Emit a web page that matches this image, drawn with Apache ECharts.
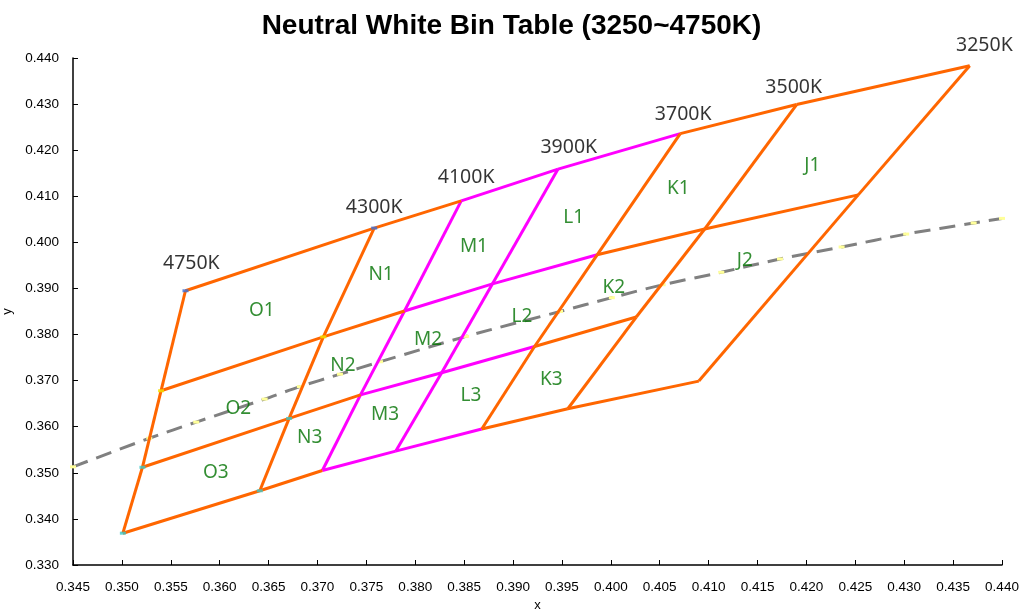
<!DOCTYPE html>
<html>
<head>
<meta charset="utf-8">
<script src="https://cdn.jsdelivr.net/npm/echarts@6/dist/echarts.min.js"></script>
<style>html,body{margin:0;padding:0;background:#fff}#c{width:1023px;height:613px}</style>
</head>
<body>
<div id="c"></div>
<script>
// CCT boundary names (left to right)
const cctNames = ['4750K', '4300K', '4100K', '3900K', '3700K', '3500K', '3250K'];
// Corner points along each bin row boundary, one per CCT line
const topEdge = [[0.3565, 0.3895], [0.3758, 0.4031], [0.3847, 0.4090], [0.3946, 0.4159], [0.4071, 0.4236], [0.4190, 0.4299], [0.4367, 0.4383]];
const row12Edge = [[0.3540, 0.3678], [0.3706, 0.3795], [0.3789, 0.3851], [0.3879, 0.3910], [0.3986, 0.3973], [0.4096, 0.4029], [0.4253, 0.4103]];
const row23Edge = [[0.3521, 0.3512], [0.3671, 0.3618], [0.3744, 0.3669], [0.3827, 0.3717], [0.3922, 0.3774], [0.4026, 0.3838]];
const bottomEdge = [[0.3501, 0.3369], [0.3641, 0.3461], [0.3705, 0.3505], [0.3780, 0.3547], [0.3868, 0.3595], [0.3956, 0.3639], [0.4090, 0.3699]];
// CCT label anchor points
const cctLabelPos = [[0.3571, 0.3955], [0.3758, 0.4075], [0.3852, 0.4140], [0.3957, 0.4205], [0.4074, 0.4277], [0.4187, 0.4337], [0.4382, 0.4427]];
// Bin names and label positions
const binNames = ['O1', 'O2', 'O3', 'N1', 'N2', 'N3', 'M1', 'M2', 'M3', 'L1', 'L2', 'L3', 'K1', 'K2', 'K3', 'J1', 'J2'];
const binLabelPos = [[0.3643, 0.3851], [0.3619, 0.3639], [0.3596, 0.3500], [0.3765, 0.3930], [0.3726, 0.3732], [0.3692, 0.3576],
  [0.3860, 0.3990], [0.3813, 0.3788], [0.3769, 0.3626], [0.3962, 0.4053], [0.3909, 0.3838], [0.3857, 0.3667],
  [0.4069, 0.4116], [0.4003, 0.3901], [0.3939, 0.3702], [0.4206, 0.4166], [0.4137, 0.3960]];
// Planckian (black body) locus samples
const locusX = [0.3450, 0.3528, 0.3576, 0.3646, 0.3682, 0.3723, 0.3764, 0.3852, 0.3948, 0.4001, 0.4053, 0.4113, 0.4173, 0.4236, 0.4302, 0.4371, 0.4400];
const locusY = [0.3513, 0.3575, 0.3610, 0.3660, 0.3687, 0.3714, 0.3741, 0.3796, 0.3850, 0.3880, 0.3908, 0.3935, 0.3964, 0.3990, 0.4018, 0.4042, 0.4052];

const ORANGE = '#FF6600', MAGENTA = '#FF00FF';
const segsMag = [], segsOr = [];
function addSeg(a, b, mag) { (mag ? segsMag : segsOr).push({ coords: [a, b] }); }
// CCT lines
for (let i = 0; i < cctNames.length; i++) {
  const pts = [topEdge[i], row12Edge[i]];
  if (i < row23Edge.length) pts.push(row23Edge[i]);
  pts.push(bottomEdge[i]);
  for (let k = 0; k < pts.length - 1; k++) addSeg(pts[k], pts[k + 1], i === 2 || i === 3);
}
// Row lines
[topEdge, row12Edge, row23Edge, bottomEdge].forEach(edge => {
  for (let j = 0; j < edge.length - 1; j++) addSeg(edge[j], edge[j + 1], j === 2 || j === 3);
});

const locusData = locusX.map((x, i) => [x, locusY[i]]);
const markers = [
  { value: topEdge[0], c: '#3C6FD8' }, { value: topEdge[1], c: '#3C6FD8' },
  { value: row12Edge[0], c: '#F2E600' }, { value: row12Edge[1], c: '#F2E600' },
  { value: row23Edge[0], c: '#3CC8C8' }, { value: row23Edge[1], c: '#3CC8C8' },
  { value: bottomEdge[0], c: '#3CC8C8' }, { value: bottomEdge[1], c: '#3CC8C8' }
].map(m => ({ value: m.value, itemStyle: { color: m.c } }));

const chart = echarts.init(document.getElementById('c'));
const axisCommon = {
  axisLine: { lineStyle: { color: '#000', width: 1.5 } },
  axisTick: { inside: true, length: 5, lineStyle: { color: '#000', width: 1 } },
  splitLine: { show: false },
  nameTextStyle: { color: '#000', fontSize: 13, fontFamily: 'Liberation Sans' }
};
chart.setOption({
  animation: false,
  backgroundColor: '#fff',
  title: {
    text: 'Neutral White Bin Table (3250~4750K)',
    left: 'center', top: 7,
    textStyle: { fontSize: 28, fontWeight: 'bold', color: '#000', fontFamily: 'Liberation Sans' }
  },
  grid: { left: 73, right: 21, top: 58, bottom: 48, containLabel: false, outerBoundsMode: 'none' },
  xAxis: Object.assign({
    type: 'value', min: 0.345, max: 0.440, interval: 0.005,
    name: 'x', nameLocation: 'middle', nameGap: 33,
    axisLabel: { color: '#000', fontSize: 13.5, fontFamily: 'Liberation Sans', margin: 15, formatter: v => v.toFixed(3) }
  }, axisCommon),
  yAxis: Object.assign({
    type: 'value', min: 0.330, max: 0.440, interval: 0.010,
    name: 'y', nameLocation: 'middle', nameGap: 53,
    axisLabel: { color: '#000', fontSize: 13.5, fontFamily: 'Liberation Sans', margin: 14, formatter: v => v.toFixed(3) }
  }, axisCommon),
  series: [
    {
      type: 'line', data: locusData, z: 1,
      lineStyle: { color: '#808080', width: 3, type: [16, 9], cap: 'butt' },
      symbol: 'rect', symbolSize: [6, 3], showSymbol: true,
      itemStyle: { color: '#FFFF99', borderWidth: 0 },
      smooth: 0.3
    },
    {
      type: 'lines', coordinateSystem: 'cartesian2d', z: 2, polyline: false,
      lineStyle: { color: MAGENTA, width: 3, opacity: 1, curveness: 0 },
      data: segsMag
    },
    {
      type: 'lines', coordinateSystem: 'cartesian2d', z: 3, polyline: false,
      lineStyle: { color: ORANGE, width: 3, opacity: 1, curveness: 0 },
      data: segsOr
    },
    {
      type: 'scatter', z: 4, symbol: 'rect', symbolSize: [6, 3], data: markers
    },
    {
      type: 'scatter', z: 5, symbolSize: 0, clip: false,
      data: cctLabelPos.map((p, i) => ({ value: p, name: cctNames[i] })),
      label: { show: true, position: 'inside', formatter: p => p.name, color: '#000', fontSize: 19.5, fontFamily: 'Noto Sans' }
    },
    {
      type: 'scatter', z: 5, symbolSize: 0, clip: false,
      data: binLabelPos.map((p, i) => ({ value: p, name: binNames[i] })),
      label: { show: true, position: 'inside', formatter: p => p.name, color: '#007200', fontSize: 19, fontFamily: 'Noto Sans' }
    }
  ]
});
</script>
</body>
</html>
